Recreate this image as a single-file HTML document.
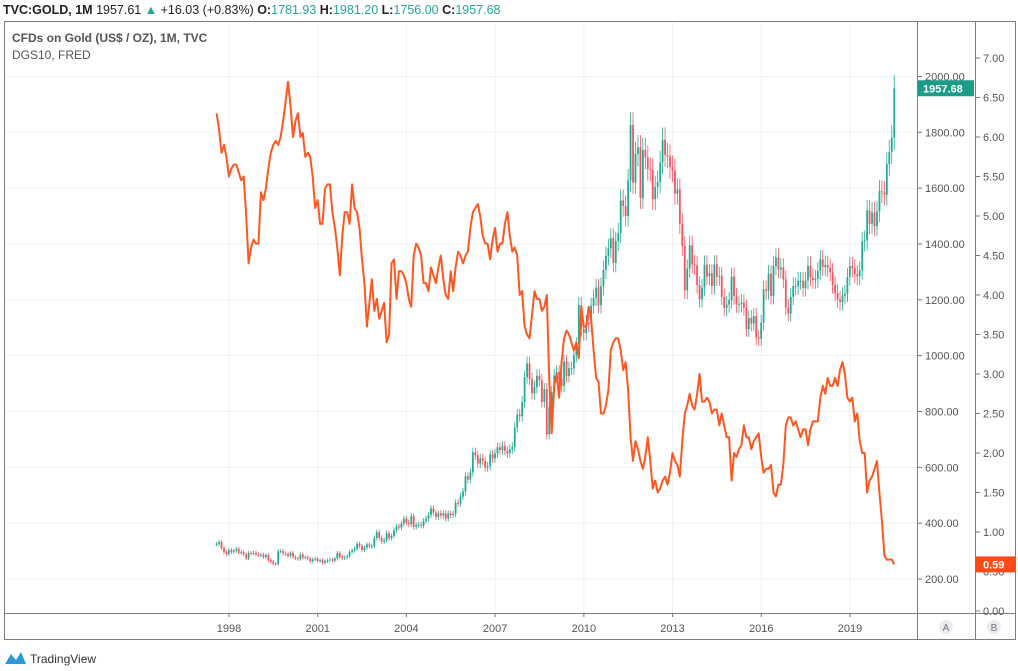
<!DOCTYPE html>
<html><head><meta charset="utf-8">
<style>
html,body{margin:0;padding:0;background:#fff;width:1018px;height:671px;overflow:hidden;font-family:"Liberation Sans",sans-serif;}
svg{position:absolute;left:0;top:0;}
</style></head>
<body>
<svg id="c" width="1018" height="671">
  <g id="grid"></g>
  <g id="candles"></g>
  <g id="yield"></g>
  <g>
    <rect x="4.5" y="21.5" width="1011" height="618" fill="none" stroke="#7a7d85" stroke-width="1"/>
    <line x1="917.5" y1="21" x2="917.5" y2="640" stroke="#7a7d85"/>
    <line x1="975.5" y1="21" x2="975.5" y2="640" stroke="#7a7d85"/>
    <line x1="4" y1="613.5" x2="1016" y2="613.5" stroke="#7a7d85"/>
  </g>
  <g id="gaxis" font-size="11" fill="#555"></g>
  <g id="yaxis" font-size="11" fill="#555"></g>
  <g id="xaxis" font-size="11" fill="#555"></g>
  <g font-size="12.5">
    <text x="3" y="14" fill="#222"><tspan font-weight="bold">TVC:GOLD, 1M</tspan> <tspan>1957.61</tspan> <tspan fill="#26a69a">▲</tspan> +16.03 (+0.83%) <tspan font-weight="bold">O:</tspan><tspan fill="#26a69a">1781.93</tspan> <tspan font-weight="bold">H:</tspan><tspan fill="#26a69a">1981.20</tspan> <tspan font-weight="bold">L:</tspan><tspan fill="#26a69a">1756.00</tspan> <tspan font-weight="bold">C:</tspan><tspan fill="#26a69a">1957.68</tspan></text>
  </g>
  <text x="12" y="42" font-size="12" fill="#555" font-weight="bold">CFDs on Gold (US$ / OZ), 1M, TVC</text>
  <text x="12" y="59" font-size="12" fill="#555">DGS10, FRED</text>
  <g><circle cx="946" cy="627" r="7" fill="#e9ebf0"/><text x="946" y="631" font-size="10" fill="#777" text-anchor="middle">A</text></g>
  <g><circle cx="994" cy="627" r="7" fill="#e9ebf0"/><text x="994" y="631" font-size="10" fill="#777" text-anchor="middle">B</text></g>
  <g>
    <path d="M5 664 L11 654 L16 660 L21 652 L26 664 Z" fill="#2a9ad6"/>
    <text x="30" y="663" font-size="12" fill="#333">TradingView</text>
  </g>
</svg>
<script>
const years=[1998,2001,2004,2007,2010,2013,2016,2019];
const goldTicks=[200,400,600,800,1000,1200,1400,1600,1800,2000];
const yieldTicks=[0,0.5,1,1.5,2,2.5,3,3.5,4,4.5,5,5.5,6,6.5,7];
const startYear=1997.58;
const goldClose=[325,332,311,296,290,
303,297,301,308,294,296,288,274,293,292,294,288,
287,287,279,286,268,262,255,254,299,300,291,290,
283,293,279,274,272,288,277,278,273,264,270,273,
265,267,258,264,267,270,266,273,293,279,275,277,
282,297,302,308,326,318,304,312,324,317,318,347,
368,347,334,339,364,346,354,375,388,384,398,416,
402,396,425,387,393,395,391,408,416,429,453,438,
422,435,427,435,417,435,429,433,473,470,495,513,
568,556,582,654,643,613,632,623,599,604,646,632,
650,672,662,677,659,650,665,673,743,789,783,834,
923,972,916,865,887,928,912,834,880,718,815,869,
928,942,916,891,979,927,955,955,1001,1040,1181,1096,
1081,1118,1113,1179,1207,1244,1181,1248,1307,1357,1384,1421,
1332,1410,1439,1556,1536,1500,1628,1826,1620,1722,1746,1564,
1737,1710,1668,1664,1560,1604,1622,1692,1773,1719,1713,1675,
1663,1580,1595,1472,1393,1234,1312,1395,1327,1323,1253,1202,
1244,1326,1284,1295,1250,1327,1282,1286,1210,1171,1183,1199,
1283,1213,1183,1184,1190,1172,1095,1135,1115,1142,1065,1061,
1118,1238,1232,1293,1214,1321,1351,1309,1316,1273,1173,1151,
1211,1249,1249,1268,1268,1242,1269,1322,1280,1271,1275,1303,
1345,1318,1325,1315,1299,1253,1224,1201,1192,1215,1222,1282,
1321,1313,1292,1284,1305,1409,1413,1520,1472,1513,1464,1517,
1589,1585,1577,1686,1730,1781,1957];
const yieldVals=[6.3,6.1,5.8,5.9,5.75,
5.5,5.6,5.65,5.65,5.55,5.45,5.5,5.0,4.4,4.6,4.7,4.65,
4.65,5.3,5.2,5.35,5.6,5.8,5.9,5.95,5.9,6.0,6.2,6.45,
6.7,6.4,6.0,6.2,6.3,6.0,6.05,5.75,5.8,5.75,5.5,5.1,
5.2,4.9,4.9,5.35,5.4,5.4,5.05,4.85,4.6,4.25,4.75,5.05,
5.05,4.9,5.4,5.1,5.05,4.85,4.45,4.15,3.6,3.9,4.2,3.8,
3.95,3.7,3.8,3.9,3.4,3.5,4.4,4.45,3.95,4.3,4.3,4.25,
4.15,3.95,3.85,4.5,4.65,4.6,4.5,4.15,4.15,4.05,4.35,4.25,
4.15,4.35,4.5,4.2,4.0,3.95,4.3,4.05,4.35,4.55,4.5,4.4,
4.5,4.55,4.85,5.05,5.1,5.15,5.0,4.75,4.65,4.65,4.45,4.7,
4.85,4.55,4.65,4.65,4.9,5.05,4.75,4.55,4.6,4.5,4.0,4.05,
3.6,3.5,3.45,3.75,4.05,3.95,3.95,3.8,3.85,4.0,2.95,2.25,
2.85,3.0,2.7,3.15,3.45,3.55,3.5,3.4,3.3,3.4,3.2,3.85,
3.6,3.6,3.85,3.7,3.3,2.95,2.9,2.5,2.5,2.6,2.8,3.3,
3.4,3.45,3.45,3.3,3.05,3.15,2.8,2.2,1.9,2.15,2.05,1.9,
1.8,1.95,2.2,1.9,1.55,1.65,1.5,1.55,1.65,1.7,1.6,1.75,
2.0,1.9,1.85,1.7,2.15,2.5,2.6,2.75,2.6,2.55,2.75,3.0,
2.65,2.65,2.7,2.65,2.5,2.55,2.55,2.35,2.5,2.35,2.2,2.2,
1.65,2.0,1.95,2.05,2.1,2.35,2.2,2.2,2.05,2.15,2.2,2.25,
1.95,1.75,1.8,1.8,1.85,1.5,1.45,1.6,1.6,1.85,2.35,2.45,
2.45,2.35,2.4,2.3,2.2,2.3,2.3,2.1,2.3,2.4,2.4,2.4,
2.7,2.85,2.75,2.95,2.85,2.85,2.95,2.85,3.05,3.15,3.0,2.7,
2.65,2.7,2.4,2.5,2.15,2.0,2.0,1.5,1.65,1.7,1.8,1.9,
1.5,1.15,0.7,0.65,0.65,0.65,0.59];
const lastGold="1957.68", lastYield="0.59";

const NS="http://www.w3.org/2000/svg";
function xT(year){return 229+(year-1998)*29.57;}
function xI(i){return xT(startYear+i/12);}
function yG(v){return 579-(v-200)*0.2792;}
function yY(v){return 611-v*79;}
function mk(tag,attrs,parent){const e=document.createElementNS(NS,tag);for(const k in attrs)e.setAttribute(k,attrs[k]);parent.appendChild(e);return e;}
const grid=document.getElementById('grid'),gax=document.getElementById('gaxis'),yax=document.getElementById('yaxis'),xax=document.getElementById('xaxis');
goldTicks.forEach(t=>{const y=yG(t);
  const l=mk('line',{x1:5,x2:917,y1:y,y2:y,stroke:'#eef1f7'},grid);
  
  
  mk('line',{x1:918,x2:922,y1:y,y2:y,stroke:'#777'},gax);
  const tx=mk('text',{x:925,y:y+4},gax);tx.textContent=t.toFixed(2);
  
  
});
yieldTicks.forEach(t=>{const y=yY(t);
  mk('line',{x1:976,x2:980,y1:y,y2:y,stroke:'#777'},yax);
  const tx=mk('text',{x:983,y:y+4},yax);tx.textContent=t.toFixed(2);
  
  
});
years.forEach(yr=>{const x=xT(yr);
  const l=mk('line',{x1:x,x2:x,y1:22,y2:613,stroke:'#eef1f7'},grid);
  
  
  mk('line',{x1:x,x2:x,y1:613,y2:617,stroke:'#777'},xax);
  const tx=mk('text',{x:x,y:632,'text-anchor':'middle'},xax);tx.textContent=yr;
  
  
});
const cg=document.getElementById('candles');
goldClose.forEach((c,i)=>{
  const o=i>0?goldClose[i-1]:c;const up=c>=o;const col=up?'#22ab94':'#f7525f';
  const x=xI(i);const hi=Math.max(o,c)*1.025,lo=Math.min(o,c)*0.975;
  const g=mk('g',{},cg);
  
  
  mk('line',{x1:x,x2:x,y1:yG(hi),y2:yG(lo),stroke:col,'stroke-width':0.8},g);
  const yt=yG(Math.max(o,c)),yb=yG(Math.min(o,c));
  mk('rect',{x:x-0.9,y:yt,width:1.8,height:Math.max(1,yb-yt),fill:col},g);
});
const yg=document.getElementById('yield');
const pts=yieldVals.map((v,i)=>xI(i).toFixed(1)+','+yY(v).toFixed(1)).join(' ');
const pl=mk('polyline',{points:pts,fill:'none',stroke:'#ff5722','stroke-width':2,'stroke-linejoin':'round'},yg);


// last value tags
const gy=yG(parseFloat(lastGold));
const gt=mk('g',{},gax);


mk('rect',{x:918,y:gy-8,width:56,height:16,fill:'#1a9c87'},gt);
const gtt=mk('text',{x:923,y:gy+4,fill:'#fff','font-weight':'bold'},gt);gtt.textContent=lastGold;
const yv=yY(parseFloat(lastYield));
const yt2=mk('g',{},yax);


mk('rect',{x:976,y:yv-8,width:40,height:16,fill:'#ff4a16'},yt2);
const ytt=mk('text',{x:983,y:yv+4,fill:'#fff','font-weight':'bold'},yt2);ytt.textContent=lastYield;
</script>
</body></html>
